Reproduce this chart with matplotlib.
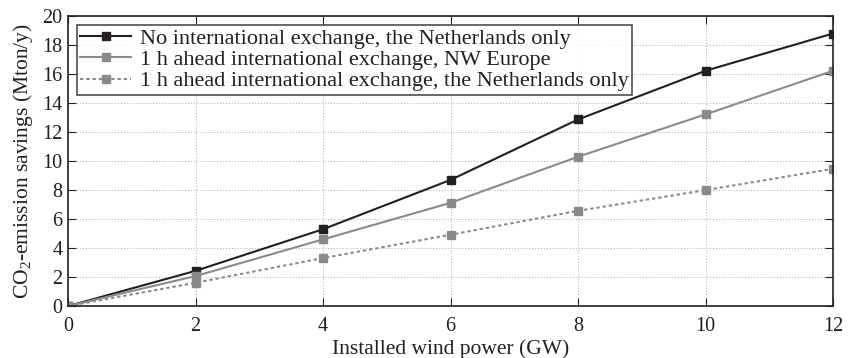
import matplotlib
matplotlib.use("Agg")
import matplotlib.pyplot as plt

# installed wind power (GW)
wind_gw = [0, 2, 4, 6, 8, 10, 12]
# CO2-emission savings (Mton/y)
no_exchange_nl = [0, 2.43, 5.3, 8.7, 12.87, 16.23, 18.8]
exchange_nw_europe = [0, 2.07, 4.6, 7.12, 10.3, 13.22, 16.23]
exchange_nl_only = [0, 1.61, 3.31, 4.92, 6.57, 8.0, 9.47]

labels = [
    "No international exchange, the Netherlands only",
    "1 h ahead international exchange, NW Europe",
    "1 h ahead international exchange, the Netherlands only",
]

plt.rcParams["font.family"] = ["Liberation Serif", "DejaVu Serif"]
plt.rcParams["mathtext.fontset"] = "custom"
plt.rcParams["mathtext.rm"] = "Liberation Serif"

fig = plt.figure(figsize=(8.5, 3.58), dpi=100)
ax = fig.add_axes([0.08, 0.145, 0.9, 0.81])

dark = "#231f20"
grey = "#8a8a8a"
ax.plot(wind_gw, no_exchange_nl, "-s", color=dark, lw=1.5, ms=6, label=labels[0])
ax.plot(wind_gw, exchange_nw_europe, "-s", color=grey, lw=1.5, ms=6, label=labels[1])
ax.plot(wind_gw, exchange_nl_only, "s", color=grey, ls=(0, (1.6, 1.4)), lw=1.5, ms=6, label=labels[2])

ax.set_xlim(0, 12)
ax.set_ylim(0, 20)
ax.set_xticks(range(0, 13, 2))
ax.set_yticks(range(0, 21, 2))
ax.grid(True, linestyle=(0, (1, 2)), color="#aaaaaa", lw=0.7)
ax.tick_params(direction="in", top=True, right=True, length=6, labelsize=14.5, colors=dark)
ax.tick_params(axis="x", pad=8)
ax.tick_params(axis="y", pad=4)
for s in ax.spines.values():
    s.set_linewidth(1.2)
    s.set_color(dark)

ax.set_xlabel("Installed wind power (GW)", fontsize=15.5, color=dark, labelpad=2)
ax.set_ylabel(r"CO$_2$-emission savings (Mton/y)", fontsize=15.5, color=dark, labelpad=5)

leg = ax.legend(loc="upper left", fontsize=16, frameon=True, fancybox=False,
                edgecolor=dark, borderpad=0.15, labelspacing=0.03, handlelength=2.3,
                handletextpad=0.4, borderaxespad=0.4)
leg.get_frame().set_linewidth(1.2)
for t in leg.get_texts():
    t.set_color(dark)

fig.savefig("out.png", dpi=100)
